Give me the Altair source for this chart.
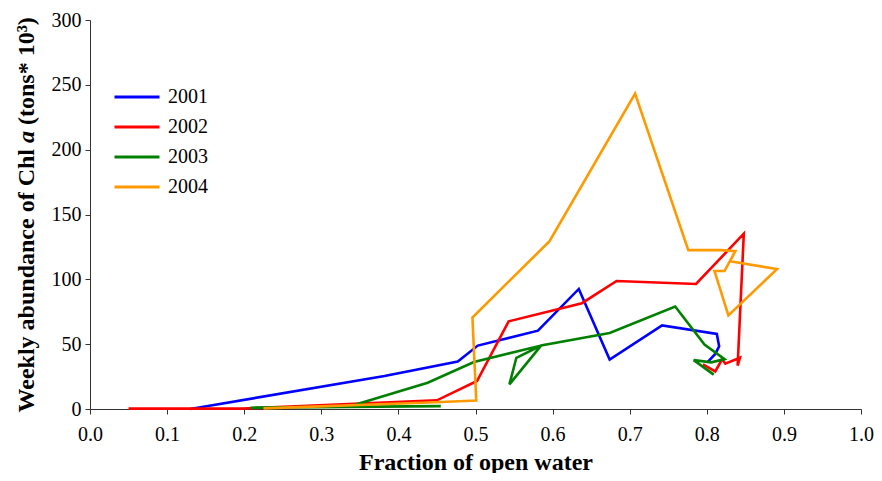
import altair as alt
import pandas as pd

years = ["2001", "2002", "2003", "2004"]
colors = ["#0000FF", "#FF0000", "#008000", "#FF9900"]

x2001 = [0.13, 0.382, 0.477, 0.503, 0.581, 0.634, 0.674, 0.742, 0.813, 0.816, 0.811, 0.801]
y2001 = [0.0, 25.4, 36.6, 48.9, 60.4, 92.6, 38.2, 64.5, 57.9, 48.4, 42.5, 36.1]

x2002 = [0.05, 0.197, 0.45, 0.502, 0.543, 0.638, 0.683, 0.786, 0.848, 0.840, 0.843, 0.824, 0.820, 0.811, 0.795]
y2002 = [0.3, 0.3, 6.7, 21.6, 67.6, 81.6, 98.7, 96.4, 135.2, 33.5, 39.5, 35.0, 38.5, 29.0, 34.5]

x2003 = [0.208, 0.455, 0.335, 0.438, 0.498, 0.585, 0.544, 0.553, 0.585, 0.674, 0.759, 0.797, 0.823, 0.806, 0.783, 0.809]
y2003 = [1.0, 2.2, 1.7, 20.3, 36.2, 48.9, 19.0, 39.5, 48.9, 58.6, 79.0, 49.7, 38.5, 36.0, 37.7, 26.5]

x2004 = [0.225, 0.44, 0.501, 0.496, 0.596, 0.707, 0.776, 0.819, 0.837, 0.823, 0.810, 0.828, 0.891, 0.830]
y2004 = [0.5, 5.0, 6.5, 70.6, 129.4, 243.3, 122.5, 122.5, 121.7, 106.4, 106.4, 72.2, 107.9, 114.0]

xs = [x2001, x2002, x2003, x2004]
ys = [y2001, y2002, y2003, y2004]

x_ticks = [round(i * 0.1, 1) for i in range(11)]
y_ticks = [0, 50, 100, 150, 200, 250, 300]

y_title_parts = ["Weekly abundance of Chl", "a", "(tons* 10³)"]

rows = []
for yr, xv, yv in zip(years, xs, ys):
    for i, (a, b) in enumerate(zip(xv, yv)):
        rows.append({"year": yr, "x": a, "y": b, "order": i})
df = pd.DataFrame(rows)

font = "Liberation Serif"

lines = alt.Chart(df).mark_line(strokeWidth=2.6).encode(
    x=alt.X("x:Q",
            scale=alt.Scale(domain=[0, 1], nice=False, zero=False),
            axis=alt.Axis(values=x_ticks, format=".1f", title="Fraction of open water",
                          grid=False, tickSize=5, labelPadding=10, titlePadding=6,
                          labelFontSize=20, titleFontSize=24, titleFontWeight="bold",
                          labelFont=font, titleFont=font, labelColor="black", titleColor="black",
                          domainColor="#333333", tickColor="#333333", labelFlush=False)),
    y=alt.Y("y:Q",
            scale=alt.Scale(domain=[0, 300], nice=False),
            axis=alt.Axis(values=y_ticks, title=None,
                          grid=False, tickSize=5, labelPadding=4,
                          labelFontSize=20, labelFont=font, labelColor="black",
                          domainColor="#333333", tickColor="#333333", labelFlush=False)),
    color=alt.Color("year:N",
                    scale=alt.Scale(domain=years, range=colors),
                    legend=alt.Legend(orient="none", legendX=23, legendY=62, title=None,
                                      symbolType="stroke", symbolSize=2025, symbolStrokeWidth=3,
                                      labelFontSize=20, labelFont=font, labelColor="black",
                                      labelOffset=7, clipHeight=30, rowPadding=0, padding=0)),
    order="order:Q",
)


def title_piece(txt, ypos, align, style):
    return alt.Chart(pd.DataFrame({"label": [txt]})).mark_text(
        angle=270, align=align, baseline="middle", font=font, fontSize=24,
        fontWeight="bold", fontStyle=style, color="black",
    ).encode(text="label:N", x=alt.value(-63), y=alt.value(ypos))


t1 = title_piece(y_title_parts[0], 129, "right", "normal")
t2 = title_piece(y_title_parts[1], 117, "center", "italic")
t3 = title_piece(y_title_parts[2], 105, "left", "normal")

chart = alt.layer(lines, t1, t2, t3).properties(
    width=771, height=389,
    autosize=alt.AutoSizeParams(type="none"),
    padding={"left": 82, "top": 12, "right": 13, "bottom": 64},
).configure_view(stroke=None)

chart.save("out.html", embed_options={"renderer": "svg", "actions": False})
